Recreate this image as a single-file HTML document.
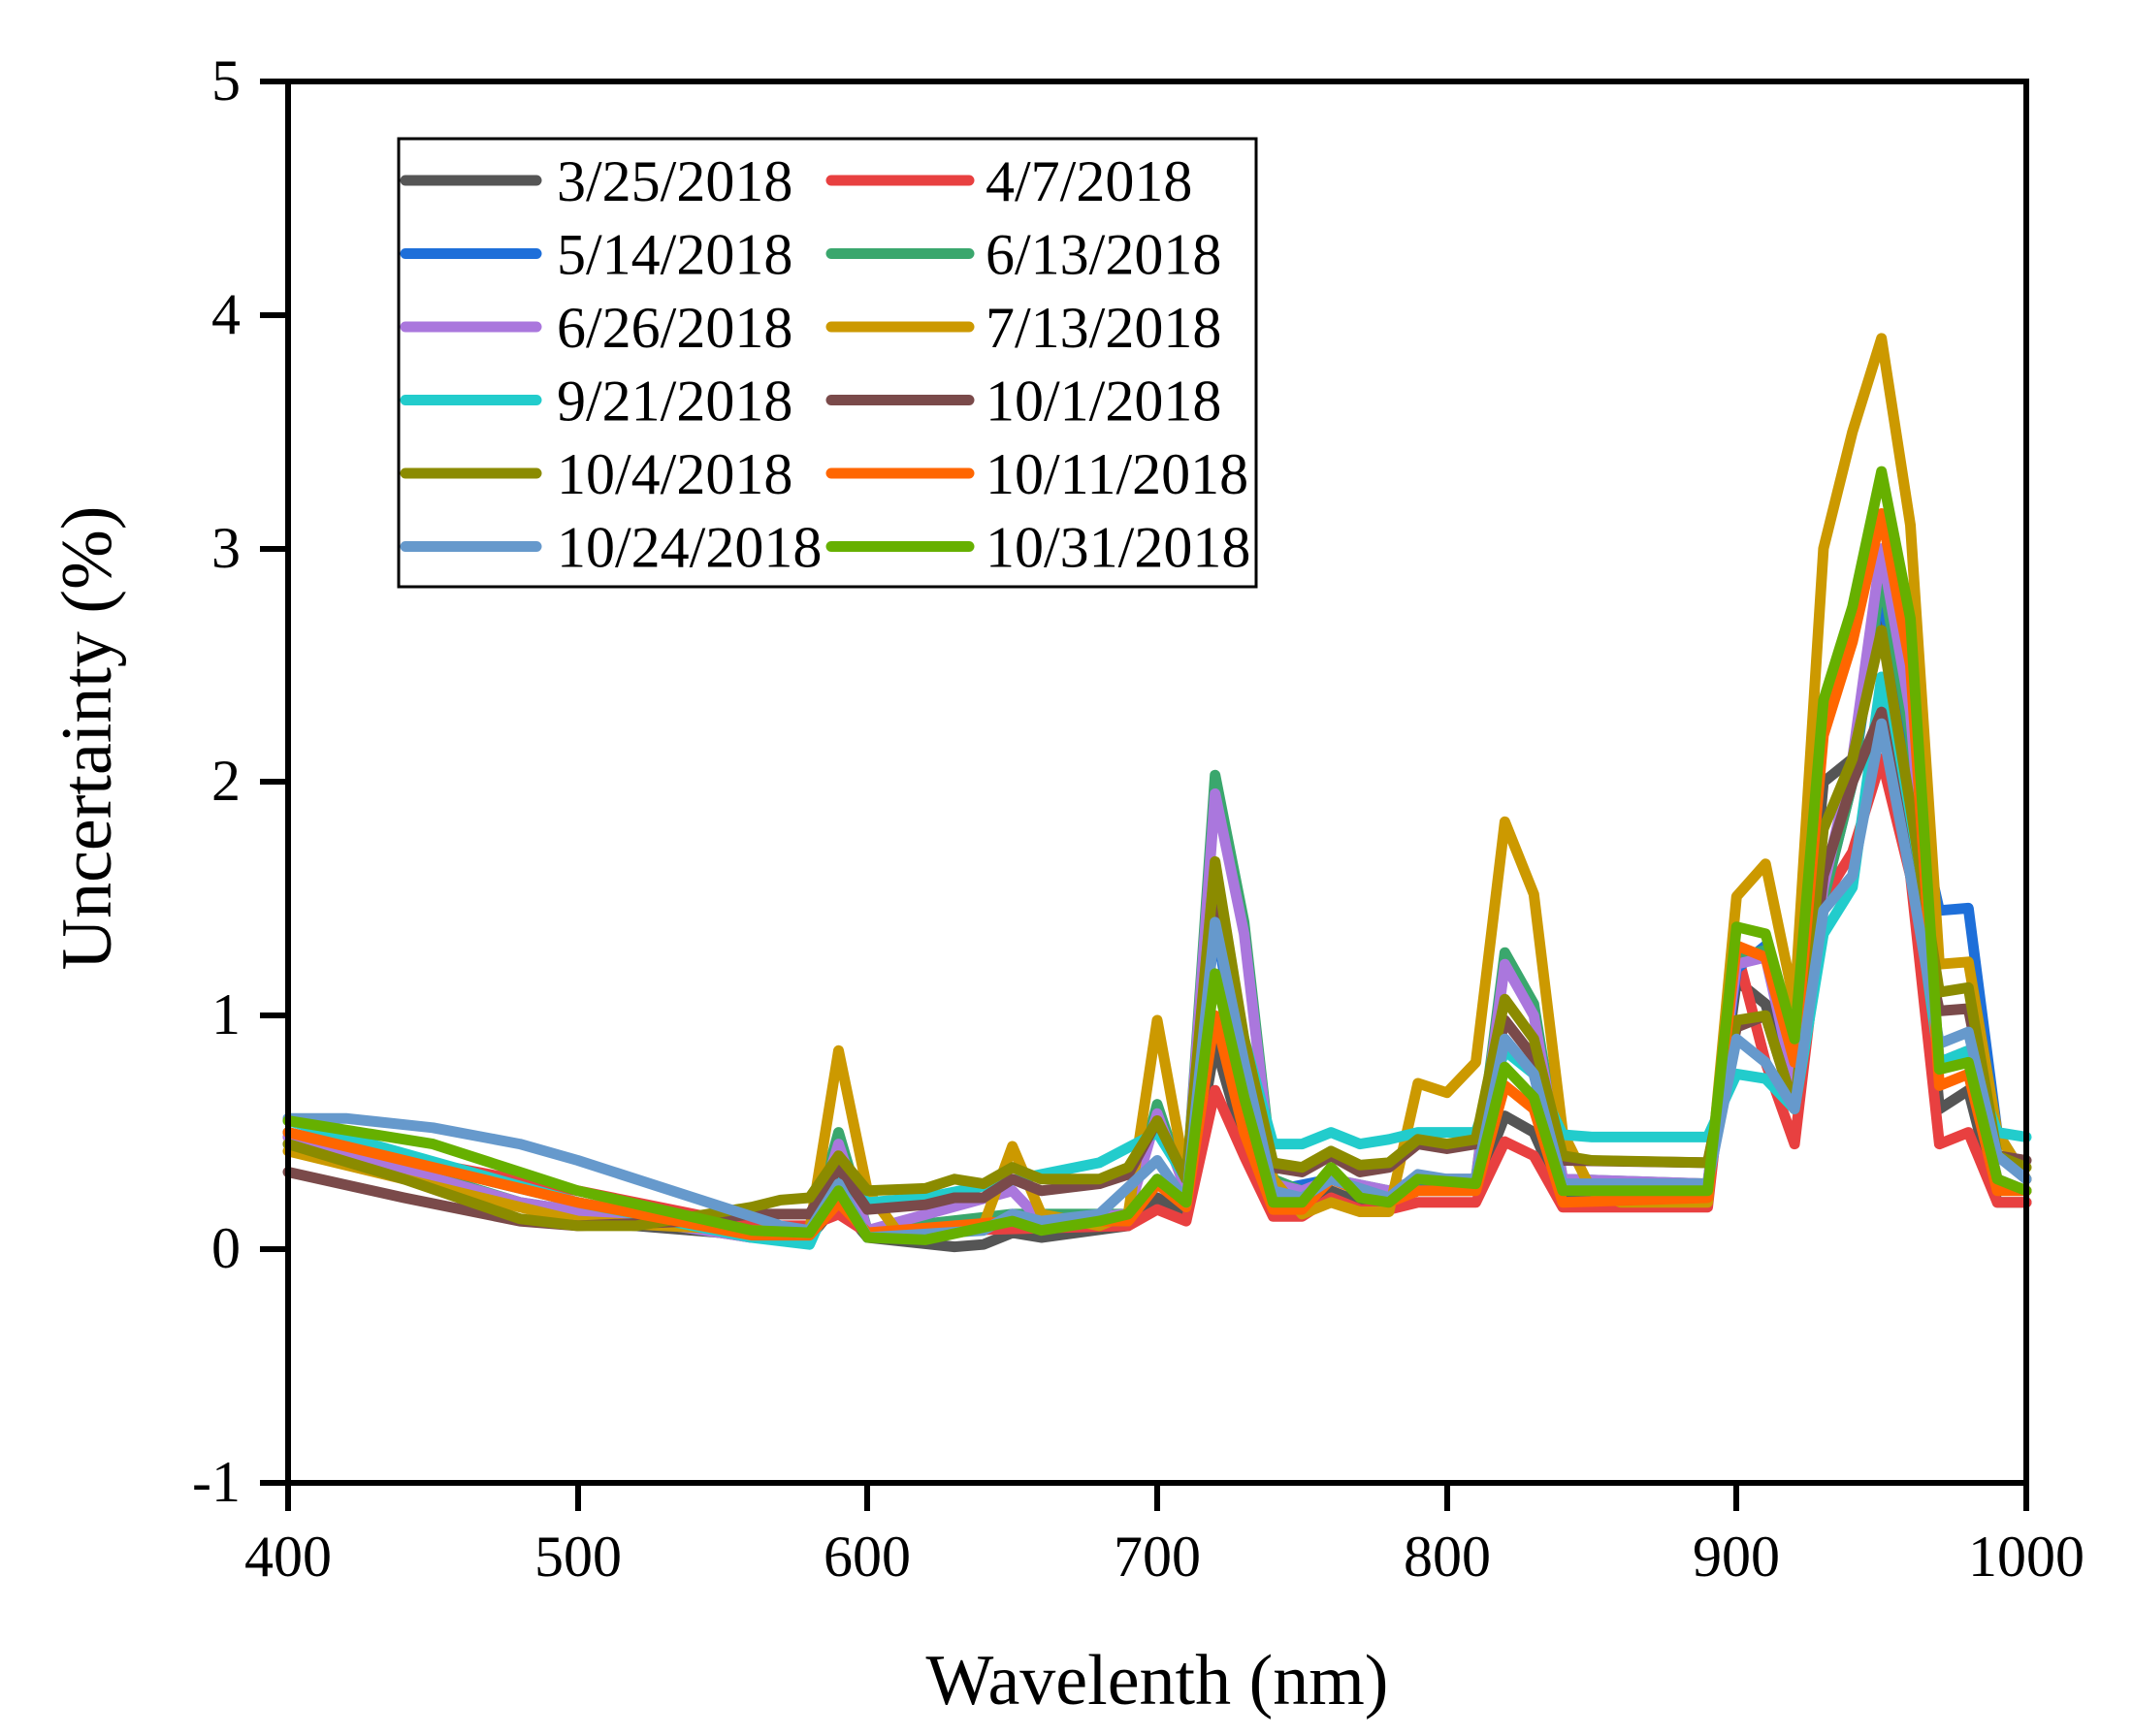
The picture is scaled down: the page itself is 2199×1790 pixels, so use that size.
<!DOCTYPE html>
<html><head><meta charset="utf-8"><style>
html,body{margin:0;padding:0;background:#fff}
svg{display:block;font-family:"Liberation Serif",serif}
</style></head><body>
<svg id="c" width="2199" height="1790" viewBox="0 0 2199 1790" xmlns="http://www.w3.org/2000/svg">
<g id="series" fill="none" stroke-width="11" stroke-linejoin="round" stroke-linecap="round"></g>
<g stroke="#000" stroke-width="6" fill="none">
<rect x="297" y="84" width="1792" height="1445"/>
<path d="M297 1529v29M596 1529v29M894 1529v29M1193 1529v29M1492 1529v29M1790 1529v29M2089 1529v29"/>
<path d="M268 84h29M268 325h29M268 566h29M268 806h29M268 1047h29M268 1288h29M268 1529h29"/>
</g>
<g font-size="60" text-anchor="middle">
<text x="297" y="1625">400</text><text x="596" y="1625">500</text><text x="894" y="1625">600</text>
<text x="1193" y="1625">700</text><text x="1492" y="1625">800</text><text x="1790" y="1625">900</text><text x="2089" y="1625">1000</text>
</g>
<g font-size="60" text-anchor="end">
<text x="248" y="103">5</text><text x="248" y="344">4</text><text x="248" y="585">3</text>
<text x="248" y="825">2</text><text x="248" y="1066">1</text><text x="248" y="1307">0</text><text x="248" y="1548">-1</text>
</g>
<text x="1193" y="1757" font-size="74" text-anchor="middle">Wavelenth (nm)</text>
<text transform="translate(114,761) rotate(-90)" font-size="74" text-anchor="middle">Uncertainty (%)</text>
<g id="legend"><rect x="411" y="143" width="884" height="462" fill="#fff" stroke="#000" stroke-width="3"/></g>
</svg>
<script>
var S=[
["3/25/2018","#555555",{400:.45,500:.12,560:.06,580:.05,590:.2,600:.05,630:.01,640:.02,650:.07,660:.05,690:.1,700:.22,710:.15,720:.88,730:.45,740:.18,750:.18,760:.25,770:.2,780:.2,790:.25,810:.25,820:.57,830:.5,840:.22,890:.22,900:1.15,910:1.05,920:.65,930:2.0,940:2.1,950:2.75,960:2.0,970:.6,980:.68,990:.2,1000:.2}],
["4/7/2018","#E84040",{400:.48,500:.25,560:.1,580:.1,590:.15,600:.07,690:.1,700:.17,710:.12,720:.68,730:.4,740:.14,750:.14,760:.22,770:.17,780:.17,790:.2,810:.2,820:.46,830:.4,840:.18,890:.18,900:1.28,910:.8,920:.45,930:1.5,940:1.7,950:2.1,960:1.6,970:.45,980:.5,990:.2,1000:.2}],
["5/14/2018","#1E6FD9",{400:.5,500:.2,560:.06,580:.05,590:.25,600:.05,650:.12,690:.12,700:.3,710:.18,720:1.4,730:.7,740:.25,760:.3,780:.22,790:.28,810:.28,820:.9,830:.75,840:.25,890:.25,900:1.2,910:1.3,920:.65,930:1.5,940:2.0,950:2.85,960:2.0,970:1.45,980:1.46,990:.5,1000:.3}],
["6/13/2018","#3AA76D",{400:.5,480:.2,560:.05,580:.05,590:.5,600:.08,650:.15,690:.15,700:.62,710:.25,720:2.03,730:1.4,740:.3,750:.25,760:.3,780:.25,790:.3,810:.3,820:1.27,830:1.05,840:.3,890:.28,900:1.25,910:1.28,920:.7,930:1.5,940:2.0,950:2.9,960:2.2,970:.8,980:.85,990:.3,1000:.25}],
["6/26/2018","#AA77DD",{400:.48,480:.2,560:.05,580:.05,590:.45,600:.08,650:.25,660:.12,690:.15,700:.58,710:.25,720:1.95,730:1.35,740:.28,750:.25,760:.3,780:.25,790:.3,810:.3,820:1.22,830:1.0,840:.3,890:.28,900:1.22,910:1.25,920:.7,930:1.55,940:2.1,950:3.0,960:2.3,970:.8,980:.85,990:.3,1000:.25}],
["7/13/2018","#CC9900",{400:.42,500:.12,560:.08,580:.08,590:.85,600:.25,610:.08,620:.05,630:.1,640:.1,650:.44,660:.15,680:.1,690:.15,700:.98,710:.3,720:1.65,730:.8,740:.3,750:.15,760:.2,770:.16,780:.16,790:.71,800:.67,810:.8,820:1.83,830:1.52,840:.5,850:.25,860:.2,890:.2,900:1.51,910:1.65,920:1.05,930:3.0,940:3.5,950:3.9,960:3.1,970:1.22,980:1.23,990:.5,1000:.3}],
["9/21/2018","#22CCCC",{400:.55,500:.2,560:.05,580:.02,590:.3,600:.2,620:.22,640:.27,660:.32,680:.37,700:.5,710:.3,720:1.5,730:.9,740:.45,750:.45,760:.5,770:.45,780:.47,790:.5,810:.5,820:.85,830:.75,840:.49,850:.48,890:.48,900:.75,910:.73,920:.6,930:1.35,940:1.55,950:2.45,960:1.7,970:.8,980:.85,990:.5,1000:.48}],
["10/1/2018","#7A4A4A",{400:.33,440:.22,480:.12,500:.1,540:.12,560:.15,580:.15,590:.35,600:.17,620:.19,630:.22,640:.22,650:.3,660:.25,680:.28,690:.32,700:.55,710:.3,720:1.5,730:.8,740:.35,750:.33,760:.4,770:.33,780:.35,790:.45,800:.43,810:.45,820:.98,830:.82,840:.38,890:.37,900:.95,910:1.0,920:.6,930:1.6,940:2.0,950:2.3,960:1.6,970:1.02,980:1.03,990:.4,1000:.38}],
["10/4/2018","#8B8B00",{400:.45,440:.3,480:.13,500:.1,520:.1,560:.18,570:.21,580:.22,590:.4,600:.25,620:.26,630:.3,640:.28,650:.35,660:.3,680:.3,690:.35,700:.55,710:.3,720:1.66,730:.9,740:.37,750:.35,760:.42,770:.36,780:.37,790:.47,800:.45,810:.47,820:1.07,830:.9,840:.4,850:.38,890:.37,900:.98,910:1.0,920:.6,930:1.8,940:2.1,950:2.65,960:1.9,970:1.1,980:1.12,990:.4,1000:.35}],
["10/11/2018","#FF6600",{400:.5,500:.2,560:.06,580:.06,590:.2,600:.07,650:.12,690:.12,700:.28,710:.18,720:1.0,730:.5,740:.17,750:.17,760:.3,780:.2,790:.25,810:.25,820:.7,830:.6,840:.2,890:.22,900:1.3,910:1.25,920:.8,930:2.2,940:2.6,950:3.15,960:2.5,970:.7,980:.75,990:.25,1000:.25}],
["10/24/2018","#6699CC",{400:.56,420:.56,450:.52,480:.45,500:.38,540:.22,570:.1,580:.08,590:.28,600:.05,640:.08,650:.15,660:.12,680:.15,700:.38,710:.2,720:1.4,730:.8,740:.25,750:.22,760:.3,780:.22,790:.32,800:.3,810:.3,820:.9,830:.75,840:.28,890:.28,900:.9,910:.8,920:.6,930:1.45,940:1.6,950:2.25,960:1.6,970:.88,980:.93,990:.4,1000:.3}],
["10/31/2018","#66B000",{400:.55,450:.45,500:.25,560:.08,580:.07,590:.25,600:.05,620:.04,650:.12,660:.08,680:.12,690:.15,700:.3,710:.2,720:1.18,730:.65,740:.2,750:.2,760:.35,770:.22,780:.2,790:.3,810:.28,820:.78,830:.65,840:.25,890:.25,900:1.38,910:1.35,920:.9,930:2.35,940:2.75,950:3.33,960:2.7,970:.77,980:.8,990:.3,1000:.25}]
];
var NS="http://www.w3.org/2000/svg",g=document.getElementById("series"),lg=document.getElementById("legend");
function X(w){return 297+(w-400)*1792/600}function Y(v){return 1288-v*240.8}
S.forEach(function(s,i){
 var k=Object.keys(s[2]).map(Number).sort(function(a,b){return a-b});
 var d=k.map(function(w,j){return (j?"L":"M")+X(w).toFixed(1)+" "+Y(s[2][w]).toFixed(1)}).join("");
 var p=document.createElementNS(NS,"path");p.setAttribute("d",d);p.setAttribute("stroke",s[1]);g.appendChild(p);
 var col=i%2,row=Math.floor(i/2),y=186+row*75.5;
 var lx=col?857:418,tx=col?1016:574;
 var l=document.createElementNS(NS,"line");l.setAttribute("x1",lx);l.setAttribute("x2",lx+(col?142:135));l.setAttribute("y1",y);l.setAttribute("y2",y);
 l.setAttribute("stroke",s[1]);l.setAttribute("stroke-width","11");l.setAttribute("stroke-linecap","round");lg.appendChild(l);
 var t=document.createElementNS(NS,"text");t.setAttribute("x",tx);t.setAttribute("y",y+21);t.setAttribute("font-size","60");t.textContent=s[0];lg.appendChild(t);
});
</script>
</body></html>
